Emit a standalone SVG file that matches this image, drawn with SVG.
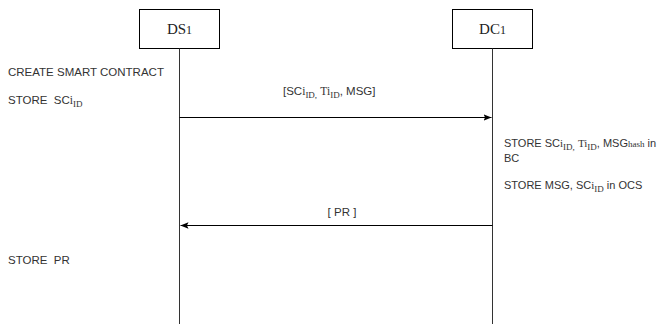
<svg xmlns="http://www.w3.org/2000/svg" width="663" height="324" viewBox="0 0 663 324">
<style>
.box{fill:#fff;stroke:#000;stroke-width:1}
.life{stroke:#333;stroke-width:1;fill:none}
.msg{stroke:#000;stroke-width:1;fill:none}
.t{font-family:"Liberation Sans",Arial,sans-serif;font-size:11.5px;fill:#333}
.r{font-size:11px}
.s{font-family:"Liberation Serif","Times New Roman",serif}
.sub{font-family:"Liberation Serif","Times New Roman",serif;font-size:9px}
.h{font-family:"Liberation Serif","Times New Roman",serif;font-size:15px;fill:#222}
</style>
<defs>
<marker id="ah" viewBox="0 0 10 10" refX="10" refY="5" markerWidth="8" markerHeight="8" markerUnits="userSpaceOnUse" orient="auto">
<path d="M0,1 L10,5 L0,9 L2,5 Z" fill="#000"/>
</marker>
</defs>
<g id="DS1">
<rect class="box" x="139.5" y="9.5" width="80" height="39"/>
<line class="life" x1="179.5" y1="48.5" x2="179.5" y2="324"/>
<text class="h" x="179.5" y="34" text-anchor="middle">DS<tspan font-size="12">1</tspan></text>
</g>
<g id="DC1">
<rect class="box" x="452.5" y="9.5" width="80" height="39"/>
<line class="life" x1="492.5" y1="48.5" x2="492.5" y2="324"/>
<text class="h" x="492.5" y="34" text-anchor="middle">DC<tspan font-size="12">1</tspan></text>
</g>
<g id="connectors">
<line class="msg" x1="179.5" y1="117.5" x2="491.5" y2="117.5" marker-end="url(#ah)"/>
<line class="msg" x1="492.5" y1="225.5" x2="180.5" y2="225.5" marker-end="url(#ah)"/>
</g>
<g id="labels">
<text class="t" x="283" y="95">[SC<tspan class="s">i</tspan><tspan class="sub" dy="3">ID,</tspan><tspan dy="-3"> </tspan><tspan class="s">Ti</tspan><tspan class="sub" dy="3">ID</tspan><tspan dy="-3">, MSG]</tspan></text>
<text class="t" x="342" y="216" text-anchor="middle">[ PR ]</text>
<text class="t" x="8" y="76">CREATE SMART CONTRACT</text>
<text class="t" x="8" y="104" xml:space="preserve">STORE  SC<tspan class="s">i</tspan><tspan class="sub" dy="3">ID</tspan></text>
<text class="t" x="8" y="264" xml:space="preserve">STORE  PR</text>
<text class="t r" x="504" y="147">STORE SC<tspan class="s">i</tspan><tspan class="sub" dy="3">ID,</tspan><tspan dy="-3"> </tspan><tspan class="s">Ti</tspan><tspan class="sub" dy="3">ID</tspan><tspan dy="-3">, MSG</tspan><tspan class="sub" font-size="8">hash</tspan><tspan> in</tspan></text>
<text class="t r" x="504" y="162">BC</text>
<text class="t r" x="504" y="189">STORE MSG, SC<tspan class="s">i</tspan><tspan class="sub" dy="3">ID</tspan><tspan dy="-3"> in OCS</tspan></text>
</g>
</svg>
